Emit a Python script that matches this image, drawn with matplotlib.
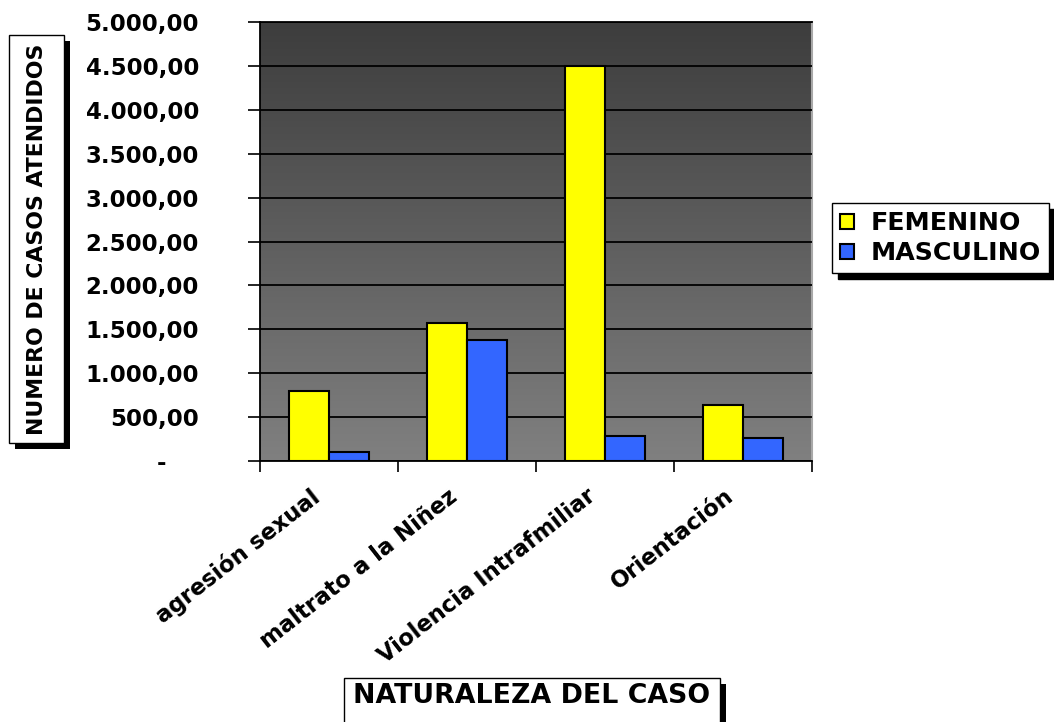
import numpy as np
import matplotlib
matplotlib.use("Agg")
import matplotlib.pyplot as plt
from matplotlib.ticker import FuncFormatter, FixedLocator
from matplotlib.colors import LinearSegmentedColormap
from matplotlib.patches import Rectangle

# data
categorias = ['agresión sexual', 'maltrato a la Niñez', 'Violencia Intrafmiliar', 'Orientación']
femenino = [795, 1570, 4500, 640]
masculino = [100, 1375, 290, 260]
series_labels = ['FEMENINO', 'MASCULINO']

plt.rcParams['font.family'] = ['DejaVu Sans']
plt.rcParams['font.weight'] = 'bold'

W, H = 1054, 722
fig = plt.figure(figsize=(W / 100, H / 100), dpi=100)
ax = fig.add_axes([260 / W, 1 - 461 / H, 552 / W, 439 / H])

# gradient background
grad = np.linspace(0, 1, 256).reshape(-1, 1)
cmap = LinearSegmentedColormap.from_list('bg', ['#808080', '#3d3d3d'])
ax.imshow(grad, cmap=cmap, origin='lower', aspect='auto',
          extent=[-0.5, 3.5, 0, 5000], zorder=0)

x = np.arange(len(categorias))
w = 0.29
ax.bar(x - w / 2, femenino, w, color='#FFFF00', edgecolor='black', linewidth=1.5,
       label=series_labels[0], zorder=3)
ax.bar(x + w / 2, masculino, w, color='#3366FF', edgecolor='black', linewidth=1.5,
       label=series_labels[1], zorder=3)

ax.set_xlim(-0.5, 3.5)
ax.set_ylim(0, 5000)
ax.set_yticks(np.arange(0, 5001, 500))
ax.yaxis.grid(True, color='black', linewidth=1.3, zorder=1)
ax.set_axisbelow(False)


def fmt(v, pos):
    if v == 0:
        return '-    '
    s = f"{v:,.2f}"
    return s.replace(',', 'X').replace('.', ',').replace('X', '.')


ax.yaxis.set_major_formatter(FuncFormatter(fmt))
ax.tick_params(axis='y', direction='out', length=9, width=1.2, labelsize=16.5, pad=35)

# labels sit a little left of the category centre, as in the original
ax.set_xticks(x - 0.14)
ax.set_xticklabels(categorias, rotation=38, ha='right', rotation_mode='anchor', fontsize=16.3)
ax.tick_params(axis='x', which='major', length=0, pad=17)
ax.xaxis.set_minor_locator(FixedLocator(np.arange(-0.5, 3.6, 1)))
ax.tick_params(axis='x', which='minor', direction='out', length=8, width=1.2)

for s in ['left', 'bottom', 'top']:
    ax.spines[s].set_color('black')
    ax.spines[s].set_linewidth(1.3)
ax.spines['right'].set_color('#a8a8a8')
ax.spines['right'].set_linewidth(1.5)


def box(x0, y0, x1, y1):
    # pixel box (from top-left) with black drop shadow
    fig.patches.append(Rectangle(((x0 + 6) / W, 1 - (y1 + 6) / H), (x1 - x0) / W, (y1 - y0) / H,
                                 transform=fig.transFigure, facecolor='black', edgecolor='none'))
    fig.patches.append(Rectangle((x0 / W, 1 - y1 / H), (x1 - x0) / W, (y1 - y0) / H,
                                 transform=fig.transFigure, facecolor='white', edgecolor='black',
                                 linewidth=1))


box(9, 35, 64, 443)
fig.text(37 / W, 1 - 239 / H, 'NUMERO DE CASOS ATENDIDOS', rotation=90,
         ha='center', va='center', fontsize=15.8, fontweight='bold')

box(344, 678, 720, 730)
fig.text(532 / W, 1 - 696 / H, 'NATURALEZA DEL CASO', ha='center', va='center',
         fontsize=19.3, fontweight='bold')

leg = fig.legend(loc='upper left', bbox_to_anchor=(832 / W, 1 - 203 / H), borderaxespad=0,
                 fontsize=18.2, frameon=True, fancybox=False, edgecolor='black',
                 handlelength=0.55, handleheight=0.55, handletextpad=0.65,
                 borderpad=0.32, labelspacing=0.25,
                 shadow={'ox': 4, 'oy': -4, 'color': 'black', 'alpha': 1})
leg.get_frame().set_linewidth(1)
for t in leg.get_texts():
    t.set_fontweight('bold')

fig.savefig('out.png', dpi=100)
